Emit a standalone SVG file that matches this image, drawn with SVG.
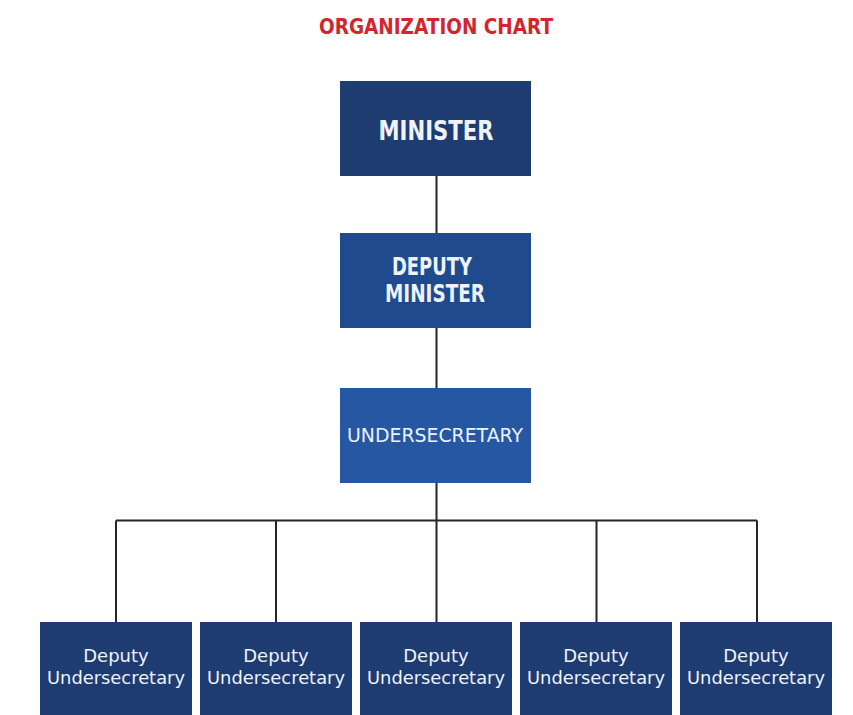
<svg xmlns="http://www.w3.org/2000/svg" width="853" height="715" viewBox="0 0 853 715">
<style>
.t{font-family:"DejaVu Sans","Liberation Sans",sans-serif;fill:#eef2fa;text-anchor:middle}
.b{font-weight:bold}
.c{stroke:#262626;stroke-width:2;fill:none}
</style>
<rect width="853" height="715" fill="#ffffff"/>
<text x="436" y="34" class="t b" style="fill:#d0262c;font-size:22px" textLength="234" lengthAdjust="spacingAndGlyphs">ORGANIZATION CHART</text>
<g id="connectors">
<path class="c" d="M436.5 176V233M436.5 328V388M436.5 483V520.5M116 520.5H757M116 520.5V622M276 520.5V622M436.5 520.5V622M596.5 520.5V622M757 520.5V622"/>
</g>
<g id="minister">
<rect x="340" y="81" width="191" height="95" fill="#1f3c70"/>
<text x="436" y="140" class="t b" style="font-size:26px" textLength="115" lengthAdjust="spacingAndGlyphs">MINISTER</text>
</g>
<g id="deputy-minister">
<rect x="340" y="233" width="191" height="95" fill="#1f4a8d"/>
<text x="432" y="275" class="t b" style="font-size:24px" textLength="80" lengthAdjust="spacingAndGlyphs">DEPUTY</text>
<text x="435" y="302" class="t b" style="font-size:24px" textLength="100" lengthAdjust="spacingAndGlyphs">MINISTER</text>
</g>
<g id="undersecretary">
<rect x="340" y="388" width="191" height="95" fill="#2557a2"/>
<text x="435" y="442" class="t" style="font-size:20px" textLength="176" lengthAdjust="spacingAndGlyphs">UNDERSECRETARY</text>
</g>
<g id="dus1">
<rect x="40" y="622" width="152" height="100" fill="#1f3c72"/>
<text x="116" y="662" class="t" style="font-size:18px">Deputy</text>
<text x="116" y="684" class="t" style="font-size:18px" textLength="138" lengthAdjust="spacingAndGlyphs">Undersecretary</text>
</g>
<g id="dus2">
<rect x="200" y="622" width="152" height="100" fill="#1f3c72"/>
<text x="276" y="662" class="t" style="font-size:18px">Deputy</text>
<text x="276" y="684" class="t" style="font-size:18px" textLength="138" lengthAdjust="spacingAndGlyphs">Undersecretary</text>
</g>
<g id="dus3">
<rect x="360" y="622" width="152" height="100" fill="#1f3c72"/>
<text x="436" y="662" class="t" style="font-size:18px">Deputy</text>
<text x="436" y="684" class="t" style="font-size:18px" textLength="138" lengthAdjust="spacingAndGlyphs">Undersecretary</text>
</g>
<g id="dus4">
<rect x="520" y="622" width="152" height="100" fill="#1f3c72"/>
<text x="596" y="662" class="t" style="font-size:18px">Deputy</text>
<text x="596" y="684" class="t" style="font-size:18px" textLength="138" lengthAdjust="spacingAndGlyphs">Undersecretary</text>
</g>
<g id="dus5">
<rect x="680" y="622" width="152" height="100" fill="#1f3c72"/>
<text x="756" y="662" class="t" style="font-size:18px">Deputy</text>
<text x="756" y="684" class="t" style="font-size:18px" textLength="138" lengthAdjust="spacingAndGlyphs">Undersecretary</text>
</g>
</svg>
